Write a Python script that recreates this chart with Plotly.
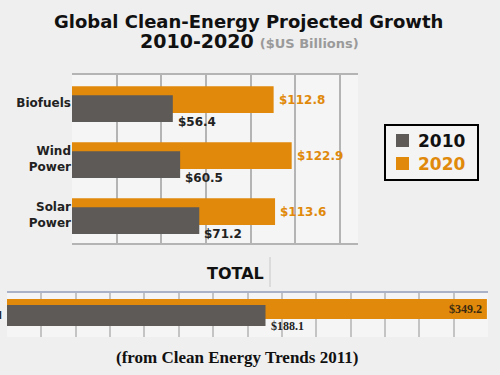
import plotly.graph_objects as go

categories = ["Biofuels", "Wind<br>Power", "Solar<br>Power"]
values_2010 = [56.4, 60.5, 71.2]
values_2020 = [112.8, 122.9, 113.6]
total_2010 = [188.1]
total_2020 = [349.2]
total_label = ["Total"]
series_names = ["2010", "2020"]

ORANGE = "#e0890b"
GRAY = "#5e5a58"
FONT = "DejaVu Sans"

pos = list(range(len(categories)))

fig = go.Figure()

# top chart
fig.add_trace(go.Bar(y=pos, x=values_2020, orientation="h", name=series_names[1], showlegend=False,
                     marker=dict(color=ORANGE, line=dict(width=0)), width=0.48, offset=-0.30,
                     xaxis="x", yaxis="y"))
fig.add_trace(go.Bar(y=pos, x=values_2010, orientation="h", name=series_names[0], showlegend=False,
                     marker=dict(color=GRAY, line=dict(width=0)), width=0.48, offset=-0.14,
                     xaxis="x", yaxis="y"))

# total chart
fig.add_trace(go.Bar(y=[0], x=total_2020, orientation="h", name=series_names[1], showlegend=False,
                     marker=dict(color=ORANGE, line=dict(width=0)), width=0.455, offset=-0.364,
                     xaxis="x2", yaxis="y2"))
fig.add_trace(go.Bar(y=[0], x=total_2010, orientation="h", name=series_names[0], showlegend=False,
                     marker=dict(color=GRAY, line=dict(width=0)), width=0.477, offset=-0.227,
                     xaxis="x2", yaxis="y2"))

ann = []
for i, v in enumerate(values_2010):
    ann.append(dict(x=v, y=i + 0.34, xref="x", yref="y", text="<b>$%.1f</b>" % v, showarrow=False,
                    xanchor="left", yanchor="middle", xshift=3, font=dict(family=FONT, size=12, color="#222")))
for i, v in enumerate(values_2020):
    ann.append(dict(x=v, y=i - 0.06, xref="x", yref="y", text="<b>$%.1f</b>" % v, showarrow=False,
                    xanchor="left", yanchor="middle", xshift=3, font=dict(family=FONT, size=12, color=ORANGE)))
ann.append(dict(x=total_2020[0], y=-0.136, xref="x2", yref="y2", text="<b>$%.1f</b>" % total_2020[0],
                showarrow=False, xanchor="right", yanchor="middle", xshift=-3,
                font=dict(family="Liberation Serif", size=12, color="#3a2a10")))
ann.append(dict(x=total_2010[0], y=0.25, xref="x2", yref="y2", text="<b>$%.1f</b>" % total_2010[0],
                showarrow=False, xanchor="left", yanchor="middle", xshift=3,
                font=dict(family="Liberation Serif", size=12, color="#222")))

# titles and text
ann.append(dict(x=248 / 500, y=1 - 21 / 375, xref="paper", yref="paper", showarrow=False,
                text="<b>Global Clean-Energy Projected Growth</b>", xanchor="center", yanchor="middle",
                font=dict(family=FONT, size=18, color="#111")))
ann.append(dict(x=249 / 500, y=1 - 41 / 375, xref="paper", yref="paper", showarrow=False,
                text="<b>2010-2020</b> <span style='font-size:13px;color:#9a9a9a'><b>($US Billions)</b></span>",
                xanchor="center", yanchor="middle", font=dict(family=FONT, size=19, color="#111")))
ann.append(dict(x=235 / 500, y=1 - 273 / 375, xref="paper", yref="paper", showarrow=False,
                text="<b>TOTAL</b>", xanchor="center", yanchor="middle",
                font=dict(family=FONT, size=16, color="#111")))
ann.append(dict(x=237 / 500, y=1 - 357 / 375, xref="paper", yref="paper", showarrow=False,
                text="<b>(from Clean Energy Trends 2011)</b>", xanchor="center", yanchor="middle",
                font=dict(family="Liberation Serif", size=17, color="#111")))

# legend (drawn by hand to match box size)
def px(x):
    return x / 500

def py(y):
    return 1 - y / 375

shapes = [
    dict(type="line", xref="paper", yref="paper", x0=px(270), x1=px(270), y0=py(287), y1=py(257),
         line=dict(color="#c8c8c8", width=1)),
    dict(type="rect", xref="paper", yref="paper", x0=px(385), x1=px(478), y0=py(180), y1=py(125),
         fillcolor="#f4f4f4", line=dict(color="#000", width=2)),
    dict(type="rect", xref="paper", yref="paper", x0=px(396), x1=px(409), y0=py(147), y1=py(134),
         fillcolor=GRAY, line=dict(width=0)),
    dict(type="rect", xref="paper", yref="paper", x0=px(396), x1=px(409), y0=py(170), y1=py(157),
         fillcolor=ORANGE, line=dict(width=0)),
]
ann.append(dict(x=px(416), y=py(141), xref="paper", yref="paper", showarrow=False,
                text="<b>%s</b>" % series_names[0], xanchor="left", yanchor="middle",
                font=dict(family=FONT, size=17, color="#111")))
ann.append(dict(x=px(416), y=py(164), xref="paper", yref="paper", showarrow=False,
                text="<b>%s</b>" % series_names[1], xanchor="left", yanchor="middle",
                font=dict(family=FONT, size=17, color=ORANGE)))

fig.update_layout(
    width=500, height=375,
    margin=dict(l=0, r=0, t=0, b=0),
    paper_bgcolor="#efefef", plot_bgcolor="#f5f5f5",
    barmode="overlay",
    showlegend=False,
    xaxis=dict(domain=[72 / 500, 358 / 500], range=[0, 160], dtick=25, tick0=0,
               showgrid=True, gridcolor="#b4b4b4", gridwidth=2, showticklabels=False,
               showline=True, linecolor="#b4b4b4", linewidth=2, mirror=True, zeroline=False,
               automargin=False),
    yaxis=dict(domain=[1 - 243 / 375, 1 - 75 / 375], range=[2.5, -0.5],
               tickvals=pos, ticktext=["<b>%s</b>" % c for c in categories],
               tickfont=dict(family=FONT, size=12, color="#222"),
               showgrid=False, zeroline=False, showline=False, automargin=False, ticks=""),
    xaxis2=dict(domain=[7 / 500, 488 / 500], range=[0, 350], dtick=25, tick0=0, anchor="y2",
                showgrid=True, gridcolor="#c4c4c4", gridwidth=1.5, showticklabels=False,
                showline=True, linecolor="#aab2c8", linewidth=2, side="top", zeroline=False,
                automargin=False),
    yaxis2=dict(domain=[1 - 337 / 375, 1 - 293 / 375], range=[0.5, -0.5], anchor="x2",
                tickvals=[0], ticktext=["<b>%s</b>" % t for t in total_label],
                tickfont=dict(family=FONT, size=11, color="#222"), ticklabelstandoff=4,
                showgrid=False, zeroline=False, showline=False, automargin=False, ticks=""),
    annotations=ann,
    shapes=shapes,
)

fig.write_html("out.html", config={"displayModeBar": False},
               post_script="document.body.style.margin='0';")
